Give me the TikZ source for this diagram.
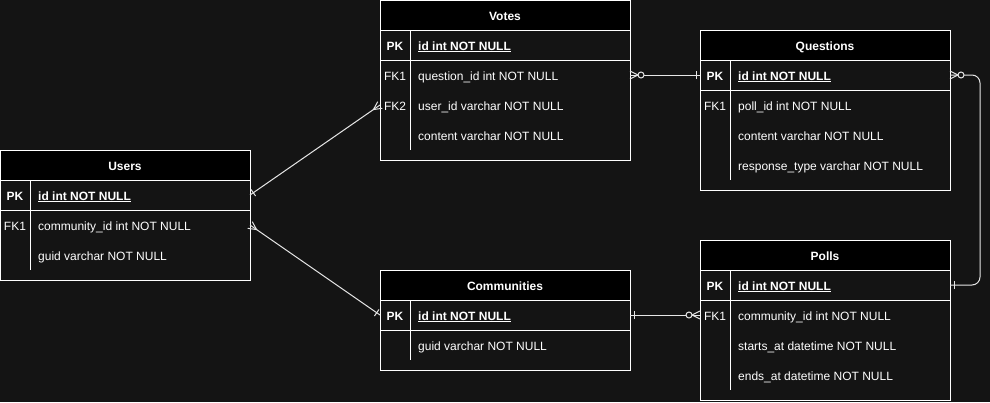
\documentclass[tikz,border=0pt]{standalone}
\usepackage{fontspec}
\setmainfont{Liberation Sans}
\usetikzlibrary{decorations.markings,calc}
\definecolor{bg}{HTML}{141414}
\definecolor{connc}{HTML}{E6E6E6}

\tikzset{
  every node/.style={font=\fontsize{12}{14}\selectfont, text=white},
  framebox/.style={draw=white, line width=1pt, inner sep=0, outer sep=0, minimum width=250},
  titlebox/.style={draw=white, fill=black, line width=1pt, inner sep=0, outer sep=0,
    minimum width=250, minimum height=30},
  titletxt/.style={inner sep=0, anchor=base, font=\fontsize{12}{14}\selectfont\bfseries},
  rowbox/.style={inner sep=0, outer sep=0, minimum width=250, minimum height=30},
  keytxt/.style={inner sep=0, anchor=base},
  fldtxt/.style={inner sep=0, anchor=base west},
  boldtxt/.style={font=\fontsize{12}{14}\selectfont\bfseries},
  tline/.style={draw=white, line width=1pt},
  conn/.style={draw=connc, line width=1pt},
  atstart/.style={postaction={decorate, decoration={markings, mark=at position 0 with {#1}}}},
  atend/.style={postaction={decorate, decoration={markings, mark=at position 1 with {#1}}}},
}

\newcommand\ertable[5]{% name, x, y, nrows, title
  \pgfmathsetmacro\erh{70+30*#4}
  \node[framebox, minimum height=\erh, anchor=north west] (#1) at (#2,#3) {};
  \node[titlebox, anchor=north west] (#1-title) at (#2,#3) {};
  \node[titletxt] (#1-title-txt) at ([yshift=-5]#1-title.center) {#5};
  \draw[tline] ([yshift=-60]#1.north west) -- ([yshift=-60]#1.north east);
  \draw[tline] ([xshift=30,yshift=-30]#1.north west) -- ([xshift=30,yshift=10]#1.south west);
}
\newcommand\erpk[2]{% table, field
  \node[rowbox, anchor=north west] (#1-pk) at ([yshift=-30]#1.north west) {};
  \node[keytxt, boldtxt] (#1-pk-key) at ([xshift=15,yshift=-5]#1-pk.west) {PK};
  \node[fldtxt, boldtxt] (#1-pk-fld) at ([xshift=38,yshift=-5]#1-pk.west) {\underline{#2}};
}
\newcommand\errow[4]{% table, idx, key, field
  \node[rowbox, anchor=north west] (#1-r#2) at ([yshift=-30-30*#2]#1.north west) {};
  \node[keytxt] (#1-r#2-key) at ([xshift=15,yshift=-5]#1-r#2.west) {#3};
  \node[fldtxt] (#1-r#2-fld) at ([xshift=38,yshift=-5]#1-r#2.west) {#4};
}
\newcommand\mkmany[1]{\draw[conn] (0,4) -- (#1*8,0) -- (0,-4);}
\newcommand\mkzero[1]{\draw[conn, fill=bg] (#1*11,0) circle[radius=3];}
\newcommand\mkone[1]{\draw[conn] (#1*4,4) -- (#1*4,-4);}

\begin{document}
\begin{tikzpicture}[x=1pt, y=-1pt]
  \fill[bg] (0,0) rectangle (990,402);
  \useasboundingbox (0,0) rectangle (990,402);

  % Votes
  \ertable{votes}{380}{0}{3}{Votes}
  \erpk{votes}{id int NOT NULL}
  \errow{votes}{1}{FK1}{question\_id int NOT NULL}
  \errow{votes}{2}{FK2}{user\_id varchar NOT NULL}
  \errow{votes}{3}{}{content varchar NOT NULL}

  % Questions
  \ertable{questions}{700}{30}{3}{Questions}
  \erpk{questions}{id int NOT NULL}
  \errow{questions}{1}{FK1}{poll\_id int NOT NULL}
  \errow{questions}{2}{}{content varchar NOT NULL}
  \errow{questions}{3}{}{response\_type varchar NOT NULL}

  % Users
  \ertable{users}{0}{150}{2}{Users}
  \erpk{users}{id int NOT NULL}
  \errow{users}{1}{FK1}{community\_id int NOT NULL}
  \errow{users}{2}{}{guid varchar NOT NULL}

  % Communities
  \ertable{communities}{380}{270}{1}{Communities}
  \erpk{communities}{id int NOT NULL}
  \errow{communities}{1}{}{guid varchar NOT NULL}

  % Polls
  \ertable{polls}{700}{240}{3}{Polls}
  \erpk{polls}{id int NOT NULL}
  \errow{polls}{1}{FK1}{community\_id int NOT NULL}
  \errow{polls}{2}{}{starts\_at datetime NOT NULL}
  \errow{polls}{3}{}{ends\_at datetime NOT NULL}

  % Connectors
  \draw[conn, atstart={\mkmany{1}\mkzero{1}}, atend={\mkone{-1}}]
    (votes-r1.east) -- (questions-pk.west);
  \draw[conn, rounded corners=8] (questions-pk.east) -- ++(30,0) |- (polls-pk.east);
  \path[atstart={\mkmany{1}\mkzero{1}}] (questions-pk.east) -- ++(20,0);
  \path[atstart={\mkone{1}}] (polls-pk.east) -- ++(20,0);
  \draw[conn, atstart={\mkone{1}}, atend={\mkmany{-1}}]
    (users-pk.east) -- (votes-r2.west);
  \draw[conn, atstart={\mkmany{1}}, atend={\mkone{-1}}]
    (users-r1.east) -- (communities-pk.west);
  \draw[conn, atstart={\mkone{1}}, atend={\mkmany{-1}\mkzero{-1}}]
    (communities-pk.east) -- (polls-r1.west);
\end{tikzpicture}
\end{document}
